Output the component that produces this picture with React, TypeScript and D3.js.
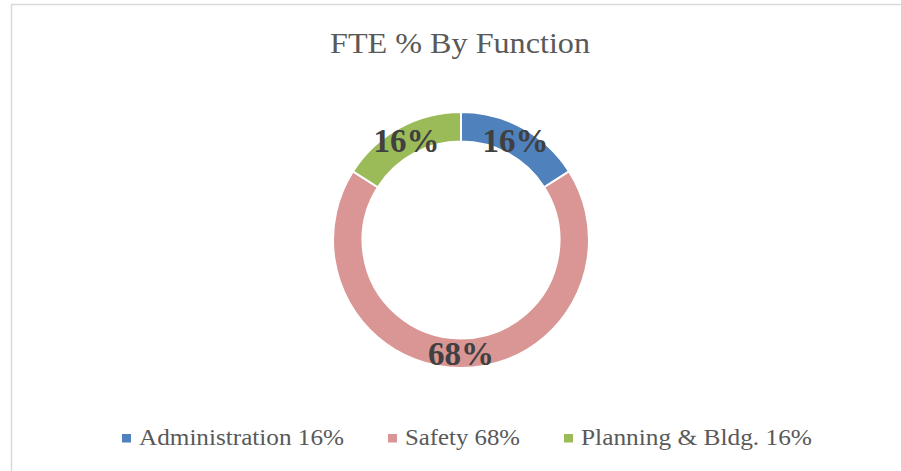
import React from "react";
import * as d3 from "d3";

const categories = ["Administration", "Safety", "Planning & Bldg."];
const values = [16, 68, 16];
const colors = ["#4F81BD", "#D99694", "#9BBB59"];
const title = "FTE % By Function";

const W = 901;
const H = 471;
const FONT = "'Liberation Serif', 'Times New Roman', serif";

export default function App() {
  const cx = 461;
  const cy = 240;
  const rOuter = 128;
  const rInner = 98.5;
  const pie = d3.pie<number>().sort(null).value((d) => d);
  const arcs = pie(values);
  const arc = d3.arc<d3.PieArcDatum<number>>().innerRadius(rInner).outerRadius(rOuter);
  const labelArc = d3.arc<d3.PieArcDatum<number>>().innerRadius(113).outerRadius(113);
  const total = d3.sum(values);

  const legendX = [122, 388, 564];
  const legendW = [205, 115, 231];

  return (
    <div style={{ position: "absolute", left: 0, top: 0, width: W, height: H, overflow: "hidden", background: "#fff" }}>
      <svg width={W} height={H} style={{ display: "block" }}>
        <rect x={11.5} y={4.5} width={W + 20} height={H + 20} fill="#fff" stroke="#D9D9D9" strokeWidth={1.5} />
        <text x={330} y={53} textLength={260} lengthAdjust="spacingAndGlyphs" fontFamily={FONT} fontSize={29.5} fill="#595959">
          {title}
        </text>
        <g transform={`translate(${cx},${cy})`}>
          {arcs.map((a, i) => (
            <path key={i} d={arc(a) || ""} fill={colors[i]} stroke="#fff" strokeWidth={2} />
          ))}
          {arcs.map((a, i) => {
            const [x, y] = labelArc.centroid(a);
            return (
              <text key={"l" + i} x={x} y={y + 11.5} textAnchor="middle" fontFamily={FONT} fontWeight="bold" fontSize={33} fill="#404040">
                {Math.round((values[i] / total) * 100)}%
              </text>
            );
          })}
        </g>
        {categories.map((c, i) => (
          <g key={"lg" + i}>
            <rect x={legendX[i]} y={434} width={9} height={8.5} fill={colors[i]} />
            <text x={legendX[i] + 17} y={445} textLength={legendW[i]} lengthAdjust="spacingAndGlyphs" fontFamily={FONT} fontSize={24} fill="#595959">
              {c} {values[i]}%
            </text>
          </g>
        ))}
      </svg>
    </div>
  );
}
